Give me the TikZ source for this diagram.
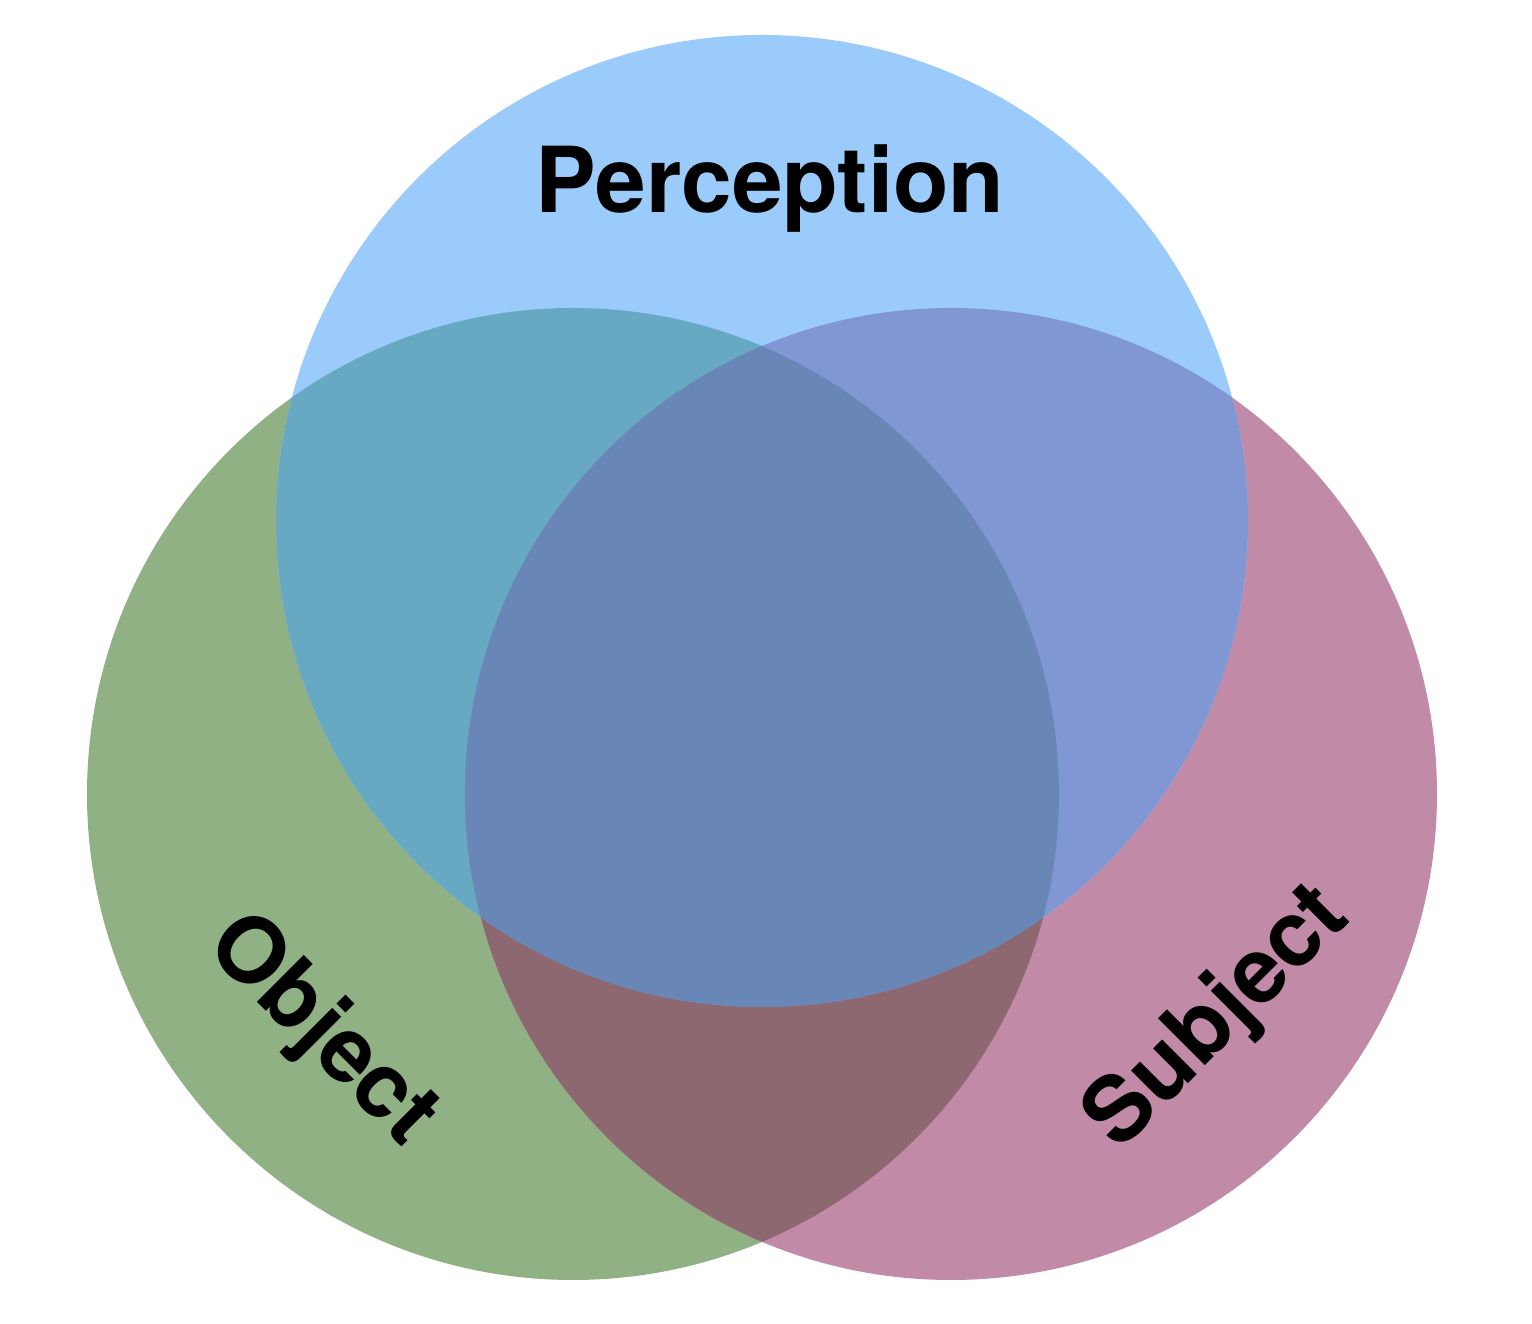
\documentclass[tikz,border=0pt]{standalone}
\usepackage{fontspec}
\setmainfont{TeX Gyre Heros}
\definecolor{cblue}{HTML}{9ACBFA}
\definecolor{cgreen}{HTML}{90B183}
\definecolor{cpink}{HTML}{C18AA7}
\definecolor{cgb}{HTML}{67A8C2}
\definecolor{cbp}{HTML}{8097D3}
\definecolor{cgp}{HTML}{8E6870}
\definecolor{call}{HTML}{6887B7}
\begin{document}
\begin{tikzpicture}[x=1pt,y=1pt,
  lbl/.style={font=\fontsize{91}{100}\selectfont\bfseries, text=black, inner sep=0pt}]
\useasboundingbox (0,0) rectangle (1532,1324);
\def\R{486}
\coordinate (B) at (762,803);
\coordinate (G) at (573,530);
\coordinate (P) at (951,530);
\fill[cgreen] (G) circle (\R);
\fill[cpink] (P) circle (\R);
\fill[cblue] (B) circle (\R);
\begin{scope}
  \clip (G) circle (\R);
  \fill[cgb] (B) circle (\R);
  \fill[cgp] (P) circle (\R);
\end{scope}
\begin{scope}
  \clip (P) circle (\R);
  \fill[cbp] (B) circle (\R);
\end{scope}
\begin{scope}
  \clip (G) circle (\R);
  \clip (P) circle (\R);
  \fill[call] (B) circle (\R);
\end{scope}
\node[lbl, anchor=base] (perc) at (770,1111) {Perception};
\node[lbl, rotate=-45] (obj) at (321,292) {Object};
\node[lbl, rotate=45] (subj) at (1219,305) {Subject};
\end{tikzpicture}
\end{document}
